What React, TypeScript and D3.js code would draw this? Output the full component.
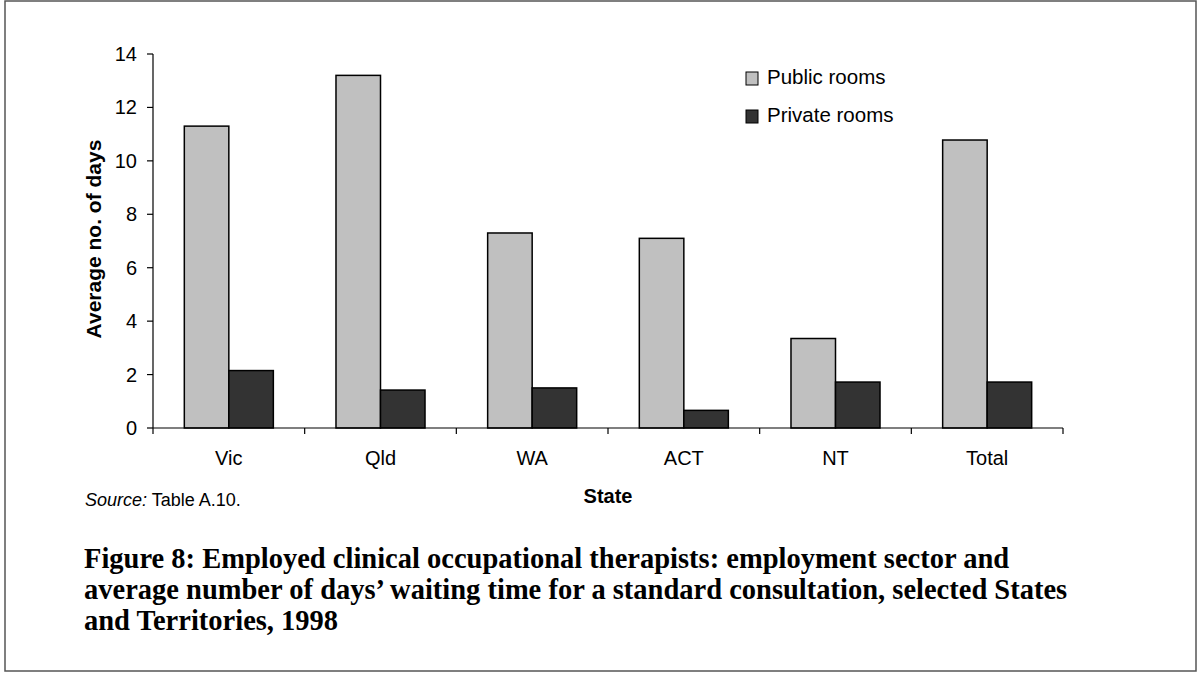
import React from 'react';
import * as d3 from 'd3';

// Chart data
const categories = ['Vic', 'Qld', 'WA', 'ACT', 'NT', 'Total'];
const seriesNames = ['Public rooms', 'Private rooms'];
const publicRooms = [11.3, 13.2, 7.3, 7.1, 3.35, 10.78];
const privateRooms = [2.15, 1.42, 1.5, 0.66, 1.72, 1.72];
const yTicks = [0, 2, 4, 6, 8, 10, 12, 14];
const captionLines = [
  'Figure 8: Employed clinical occupational therapists: employment sector and',
  'average number of days\u2019 waiting time for a standard consultation, selected States',
  'and Territories, 1998',
];

const W = 1197;
const H = 673;
const sans = '"Liberation Sans", Arial, sans-serif';
const serif = '"Liberation Serif", "Times New Roman", serif';
const fills = ['#c0c0c0', '#333333'];

export default function App() {
  const plot = { left: 153, right: 1063, top: 54, bottom: 428 };

  // keep step = width / n, bars centred in each category
  const x0 = d3.scaleBand<string>()
    .domain(categories)
    .range([plot.left, plot.right])
    .paddingInner(0.413)
    .paddingOuter(0.2065);

  const x1 = d3.scaleBand<string>()
    .domain(seriesNames)
    .range([0, x0.bandwidth()]);

  const y = d3.scaleLinear().domain([0, 14]).range([plot.bottom, plot.top]);

  const values = [publicRooms, privateRooms];
  const step = x0.step();
  const boundaries = d3.range(categories.length + 1).map(i => plot.left + i * step);

  return (
    <svg
      width={W}
      height={H}
      style={{ position: 'absolute', left: 0, top: 0, background: '#fff' }}
    >
      {/* outer frame */}
      <rect x={5} y={1} width={1191} height={670} fill="#fff" stroke="#555" strokeWidth={1.5} />

      {/* bars */}
      {categories.map((cat, i) => (
        <g key={cat} transform={`translate(${x0(cat)},0)`}>
          {seriesNames.map((s, j) => (
            <rect
              key={s}
              x={x1(s)}
              y={y(values[j][i])}
              width={x1.bandwidth()}
              height={y(0) - y(values[j][i])}
              fill={fills[j]}
              stroke="#000"
              strokeWidth={1.5}
            />
          ))}
        </g>
      ))}

      {/* y axis */}
      <line x1={plot.left} x2={plot.left} y1={plot.top} y2={plot.bottom} stroke="#000" strokeWidth={1.2} />
      {yTicks.map(t => (
        <g key={t}>
          <line x1={plot.left - 6} x2={plot.left} y1={y(t)} y2={y(t)} stroke="#000" strokeWidth={1.2} />
          <text
            x={plot.left - 16}
            y={y(t)}
            dy="0.35em"
            textAnchor="end"
            fontFamily={sans}
            fontSize={20}
            fill="#000"
          >
            {t}
          </text>
        </g>
      ))}

      {/* x axis */}
      <line x1={plot.left} x2={plot.right} y1={plot.bottom} y2={plot.bottom} stroke="#000" strokeWidth={1.2} />
      {boundaries.map((bx, i) => (
        <line key={i} x1={bx} x2={bx} y1={plot.bottom} y2={plot.bottom + 6} stroke="#000" strokeWidth={1.2} />
      ))}
      {categories.map(cat => (
        <text
          key={cat}
          x={(x0(cat) ?? 0) + x0.bandwidth() / 2}
          y={465}
          textAnchor="middle"
          fontFamily={sans}
          fontSize={20}
          fill="#000"
        >
          {cat}
        </text>
      ))}

      {/* axis titles */}
      <text
        transform="translate(101,239) rotate(-90)"
        textAnchor="middle"
        fontFamily={sans}
        fontSize={21}
        fontWeight="bold"
        fill="#000"
      >
        Average no. of days
      </text>
      <text
        x={(plot.left + plot.right) / 2}
        y={503}
        textAnchor="middle"
        fontFamily={sans}
        fontSize={20}
        fontWeight="bold"
        fill="#000"
      >
        State
      </text>

      {/* legend */}
      {seriesNames.map((s, j) => (
        <g key={s} transform={`translate(746,${72 + j * 38})`}>
          <rect x={0} y={0} width={12} height={13} fill={fills[j]} stroke="#000" strokeWidth={1} />
          <text x={21} y={12} fontFamily={sans} fontSize={20.5} fill="#000">
            {s}
          </text>
        </g>
      ))}

      {/* source note */}
      <text x={85} y={506} fontFamily={sans} fontSize={18} fill="#000">
        <tspan fontStyle="italic">Source:</tspan> Table A.10.
      </text>

      {/* caption */}
      {captionLines.map((line, i) => (
        <text
          key={i}
          x={84}
          y={568 + i * 31}
          fontFamily={serif}
          fontSize={28.5}
          fontWeight="bold"
          fill="#000"
        >
          {line}
        </text>
      ))}
    </svg>
  );
}
